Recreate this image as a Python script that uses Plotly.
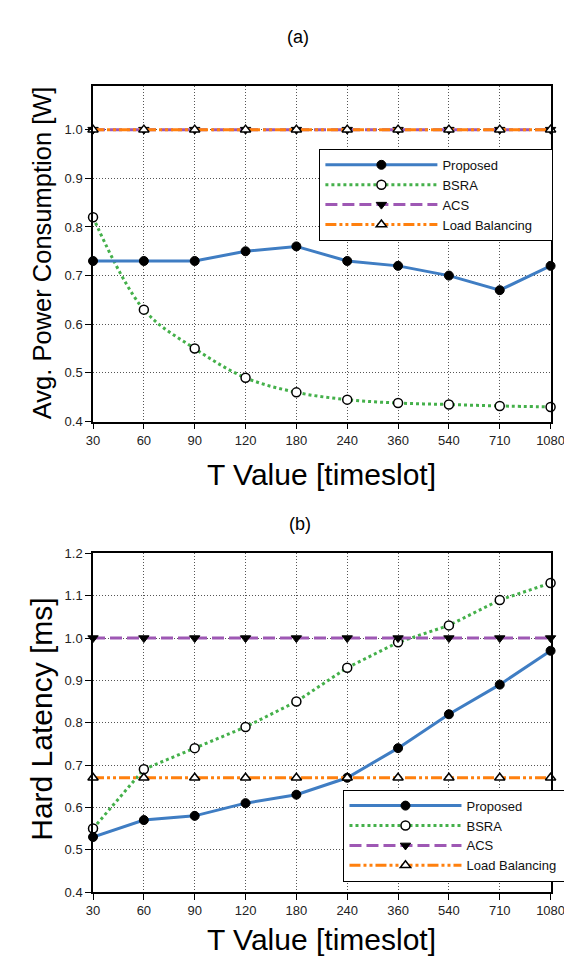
import plotly.graph_objects as go

t_labels = ["30", "60", "90", "120", "180", "240", "360", "540", "710", "1080"]

# (a) Avg. Power Consumption [W]
power_proposed = [0.73, 0.73, 0.73, 0.75, 0.76, 0.73, 0.72, 0.70, 0.67, 0.72]
power_bsra = [0.82, 0.63, 0.55, 0.49, 0.46, 0.445, 0.438, 0.435, 0.432, 0.43]
power_acs = [1.0, 1.0, 1.0, 1.0, 1.0, 1.0, 1.0, 1.0, 1.0, 1.0]
power_lb = [1.0, 1.0, 1.0, 1.0, 1.0, 1.0, 1.0, 1.0, 1.0, 1.0]

# (b) Hard Latency [ms]
lat_proposed = [0.53, 0.57, 0.58, 0.61, 0.63, 0.67, 0.74, 0.82, 0.89, 0.97]
lat_bsra = [0.55, 0.69, 0.74, 0.79, 0.85, 0.93, 0.99, 1.03, 1.09, 1.13]
lat_acs = [1.0, 1.0, 1.0, 1.0, 1.0, 1.0, 1.0, 1.0, 1.0, 1.0]
lat_lb = [0.67, 0.67, 0.67, 0.67, 0.67, 0.67, 0.67, 0.67, 0.67, 0.67]

names = ["Proposed", "BSRA", "ACS", "Load Balancing\u00a0\u00a0\u00a0\u00a0"]

W, H = 572, 957
FONT = "Liberation Sans, Arial, sans-serif"

BLUE = "#3f7dc3"
GREEN = "#44b04a"
PURPLE = "#9e58b4"
ORANGE = "#ff800e"

styles = [
    dict(line=dict(color=BLUE, width=3, dash="solid"),
         marker=dict(symbol="circle", size=9, color="black", line=dict(color="black", width=1))),
    dict(line=dict(color=GREEN, width=3, dash="dot"),
         marker=dict(symbol="circle", size=9, color="white", line=dict(color="black", width=1.5))),
    dict(line=dict(color=PURPLE, width=3, dash="12px,5px"),
         marker=dict(symbol="triangle-down", size=9, color="black", line=dict(color="black", width=1))),
    dict(line=dict(color=ORANGE, width=3, dash="11px,3px,3px,3px,3px,3px"),
         marker=dict(symbol="triangle-up", size=9, color="white", line=dict(color="black", width=1.5))),
]

fig = go.Figure()

def add_panel(series, xa, ya, legend, spline_bsra):
    order = [1, 0, 2, 3]
    for i in order:
        st = styles[i]
        line = dict(st["line"])
        if i == 1 and spline_bsra:
            line["shape"] = "spline"
        fig.add_trace(go.Scatter(
            x=list(range(len(t_labels))), y=series[i], name=names[i],
            mode="lines+markers", line=line, marker=st["marker"],
            xaxis=xa, yaxis=ya, legend=legend, legendrank=i + 1,
            cliponaxis=False,
        ))

add_panel([power_proposed, power_bsra, power_acs, power_lb], "x", "y", "legend", True)
add_panel([lat_proposed, lat_bsra, lat_acs, lat_lb], "x2", "y2", "legend2", False)

def px_x(p):
    return p / W

def px_y(p):
    return 1 - p / H

xdom = [px_x(81), px_x(556)]
ydom_a = [px_y(413), px_y(72)]
ydom_b = [px_y(891), px_y(547)]

axis_common = dict(
    showline=True, linecolor="black", linewidth=1.5, mirror=True,
    ticks="outside", ticklen=6, tickcolor="black", tickwidth=1,
    showgrid=True, gridcolor="#555", griddash="1px,2px", gridwidth=1,
    zeroline=False, tickfont=dict(family=FONT, size=13, color="#222"),
)

xaxis_common = dict(axis_common, tickmode="array", tickvals=list(range(len(t_labels))),
                    ticktext=t_labels, range=[0, len(t_labels) - 1], domain=xdom)

legend_common = dict(xanchor="left", yanchor="top",
                     bordercolor="black", borderwidth=1, bgcolor="white",
                     font=dict(family=FONT, size=13, color="#111"),
                     itemwidth=112, tracegroupgap=0)

fig.update_layout(
    width=W, height=H,
    margin=dict(l=0, r=0, t=0, b=0),
    paper_bgcolor="white", plot_bgcolor="white",
    font=dict(family=FONT, color="black"),
    xaxis=dict(xaxis_common, anchor="y"),
    yaxis=dict(axis_common, domain=ydom_a, range=[0.4, 1.09],
               tickvals=[0.4, 0.5, 0.6, 0.7, 0.8, 0.9, 1.0], tickformat=".1f", anchor="x"),
    xaxis2=dict(xaxis_common, anchor="y2"),
    yaxis2=dict(axis_common, domain=ydom_b, range=[0.4, 1.2],
                tickvals=[0.4, 0.5, 0.6, 0.7, 0.8, 0.9, 1.0, 1.1, 1.2], tickformat=".1f", anchor="x2"),
    legend=dict(legend_common, x=px_x(316), y=px_y(136)),
    legend2=dict(legend_common, x=px_x(341), y=px_y(787)),
    showlegend=True,
)

ann = [
    dict(text="(a)", x=px_x(294), y=px_y(22), font=dict(size=18)),
    dict(text="(b)", x=px_x(296), y=px_y(517), font=dict(size=18)),
    dict(text="T Value [timeslot]", x=px_x(318), y=px_y(467), font=dict(size=30)),
    dict(text="T Value [timeslot]", x=px_x(318), y=px_y(939), font=dict(size=30)),
    dict(text="Avg. Power Consumption [W]", x=px_x(28), y=px_y(241), textangle=-90, font=dict(size=25.5)),
    dict(text="Hard Latency [ms]", x=px_x(28), y=px_y(715), textangle=-90, font=dict(size=30)),
]
for a in ann:
    fig.add_annotation(xref="paper", yref="paper", showarrow=False,
                       xanchor="center", yanchor="middle",
                       **{k: v for k, v in a.items() if k != "font"},
                       font=dict(family=FONT, color="black", **a["font"]))

fig.write_html("out.html")
